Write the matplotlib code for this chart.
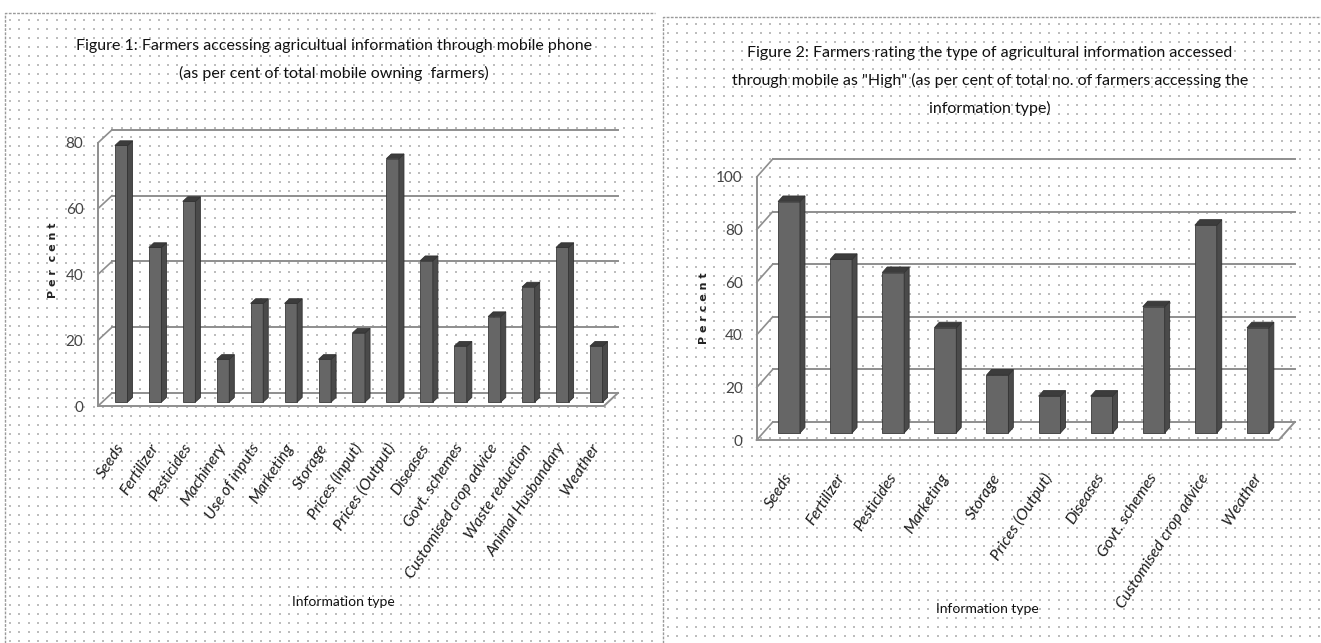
import numpy as np
import matplotlib
matplotlib.use('Agg')
import matplotlib.pyplot as plt
from matplotlib.patches import Polygon

W, H = 1321, 643

# ---- data ----
cats1 = ['Seeds', 'Fertilizer', 'Pesticides', 'Machinery', 'Use of inputs',
         'Marketing', 'Storage', 'Prices (Input)', 'Prices (Output)', 'Diseases',
         'Govt. schemes', 'Customised crop advice', 'Waste reduction',
         'Animal Husbandary', 'Weather']
vals1 = [78, 47, 61, 13, 30, 30, 13, 21, 74, 43, 17, 26, 35, 47, 17]
ticks1 = [0, 20, 40, 60, 80]
title1 = ('Figure 1: Farmers accessing agricultual information through mobile phone\n'
          '(as per cent of total mobile owning  farmers)')

cats2 = ['Seeds', 'Fertilizer', 'Pesticides', 'Marketing', 'Storage',
         'Prices (Output)', 'Diseases', 'Govt. schemes', 'Customised crop advice',
         'Weather']
vals2 = [88, 66, 61, 40, 22, 14, 14, 48, 79, 40]
ticks2 = [0, 20, 40, 60, 80, 100]
title2 = ('Figure 2: Farmers rating the type of agricultural information accessed\n'
          'through mobile as "High" (as per cent of total no. of farmers accessing the\n'
          'information type)')

xlabel = 'Information type'
ylabel1 = 'P e r  c e n t'
ylabel2 = 'P e r c e n t'

plt.rcParams['font.family'] = ['Lato', 'DejaVu Sans']

GRID = '#8e8e8e'
FRONT = '#666666'
SIDE = '#4a4a4a'
TOP = '#3c3c3c'

fig = plt.figure(figsize=(W / 100, H / 100), dpi=100)

# background: two dotted panels
bg = fig.add_axes([0, 0, 1, 1])
bg.set_xlim(0, W)
bg.set_ylim(H, 0)
bg.axis('off')
for (px0, py0, px1) in [(5, 13, 655), (663, 17, W)]:
    gx, gy = np.meshgrid(np.arange(px0 + 5, px1, 9.3), np.arange(py0 + 7, H, 9.0))
    bg.scatter(gx.ravel(), gy.ravel(), s=1.2, marker='s', c='#bdbdbd', lw=0)
    bg.plot([px0, px0, px1], [H, py0, py0], color='#9a9a9a', lw=1.0, ls=(0, (2, 1)))


def draw_chart(cats, vals, ticks, x0px, xstep, y0px, ystep, xlim, ylim,
               ddx, ddy, t0, t1, bw, xleft, xright, ypad, xpad):
    left = x0px + xlim[0] * xstep
    right = x0px + xlim[1] * xstep
    bot = y0px - ylim[0] * ystep
    top = y0px - ylim[1] * ystep
    ax = fig.add_axes([left / W, 1 - bot / H, (right - left) / W, (bot - top) / H])
    ax.set_xlim(xlim)
    ax.set_ylim(ylim)
    ax.patch.set_alpha(0)

    # back wall grid and side-wall diagonals
    for v in ticks:
        ax.plot([xleft + ddx, xright + ddx], [v + ddy, v + ddy], color=GRID, lw=1.4, zorder=1)
        ax.plot([xleft, xleft + ddx], [v, v + ddy], color=GRID, lw=1.2, zorder=1)
    # floor outline
    ax.plot([xleft, xright, xright + ddx], [0, 0, ddy], color=GRID, lw=1.4, zorder=1)

    x = np.arange(len(cats))
    dd = t1 - t0
    for xi, v in zip(x, vals):
        fx = xi - bw / 2 + t0 * ddx
        by = t0 * ddy
        ax.bar(xi + t0 * ddx, v, bottom=by, width=bw, color=FRONT,
               edgecolor='#3a3a3a', lw=0.6, zorder=3)
        ax.add_patch(Polygon([(fx + bw, by), (fx + bw + dd * ddx, by + dd * ddy),
                              (fx + bw + dd * ddx, by + v + dd * ddy), (fx + bw, by + v)],
                             closed=True, fc=SIDE, ec='#333333', lw=0.6, zorder=3))
        ax.add_patch(Polygon([(fx, by + v), (fx + dd * ddx, by + v + dd * ddy),
                              (fx + bw + dd * ddx, by + v + dd * ddy), (fx + bw, by + v)],
                             closed=True, fc=TOP, ec='#333333', lw=0.6, zorder=3))

    for s in ['top', 'right', 'bottom']:
        ax.spines[s].set_visible(False)
    ax.spines['left'].set_position(('data', xleft))
    ax.spines['left'].set_bounds(0, ticks[-1])
    ax.spines['left'].set_color(GRID)
    ax.spines['left'].set_linewidth(1.4)
    ax.set_yticks(ticks)
    ax.tick_params(axis='y', length=0, pad=ypad, labelsize=11, labelcolor='#444444')
    ax.set_xticks(x + t0 * ddx)
    ax.set_xticklabels(cats, rotation=57, ha='right', va='center', rotation_mode='anchor',
                       fontstyle='italic', fontsize=11.5, color='#1e1e1e')
    ax.tick_params(axis='x', length=0, pad=xpad)
    return ax


draw_chart(cats1, vals1, ticks1, 117, 33.93, 406, 3.29, (-1.0, 15.2), (-6, 88),
           0.413, 3.95, 0.3, 0.66, 0.37, -0.56, 14.35, 10.5, 14)
draw_chart(cats2, vals2, ticks2, 782.8, 52.1, 440, 2.63, (-1.2, 10.2), (-8, 110),
           0.307, 6.84, 0.39, 0.70, 0.42, -0.5, 9.52, 10, 10)

# titles and axis labels (figure pixel positions)
bg.text(334, 60, title1, ha='center', va='center', fontsize=11.5, color='#111111',
        linespacing=2.05)
bg.text(990, 81, title2, ha='center', va='center', fontsize=11.5, color='#111111',
        linespacing=2.05)
bg.text(53, 260, ylabel1, rotation=90, ha='center', va='center', fontsize=8,
        fontweight='bold', family='DejaVu Sans', color='#222222')
bg.text(704, 308, ylabel2, rotation=90, ha='center', va='center', fontsize=8,
        fontweight='bold', family='DejaVu Sans', color='#222222')
bg.text(343, 602, xlabel, ha='center', va='center', fontsize=10, color='#111111')
bg.text(987, 609, xlabel, ha='center', va='center', fontsize=10, color='#111111')

fig.savefig('out.png', dpi=100)
